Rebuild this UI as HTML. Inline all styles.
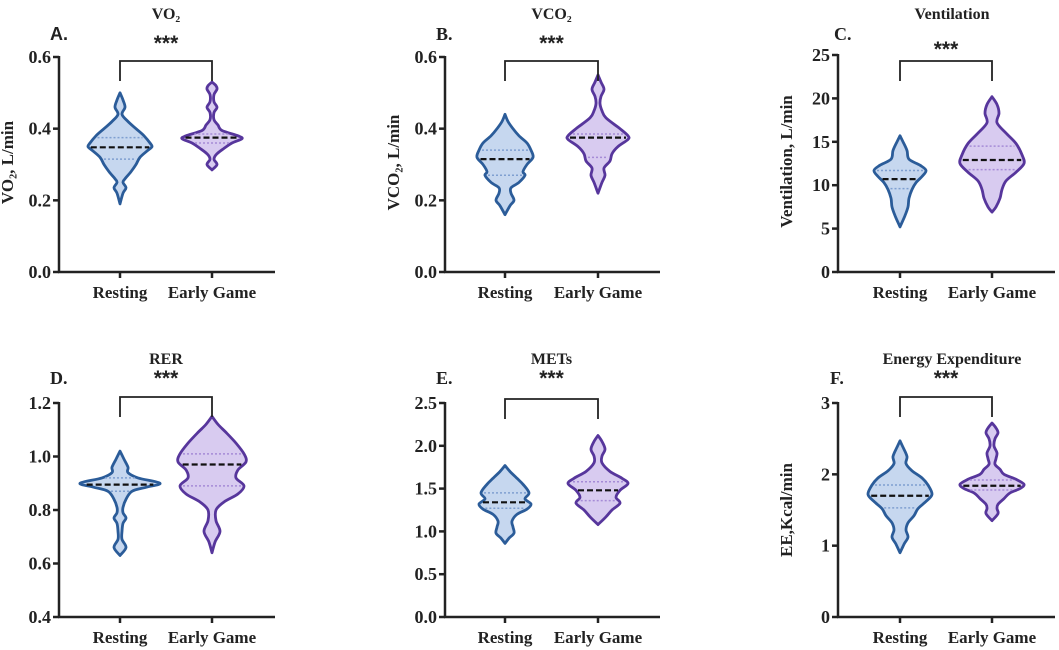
<!DOCTYPE html>
<html><head><meta charset="utf-8"><style>
html,body{margin:0;padding:0;background:#fff;}
svg{display:block;}
text{font-family:"Liberation Serif",serif;font-weight:bold;fill:#222;}
.lbl{font-family:"Liberation Sans",sans-serif;}
</style></head><body>
<svg id="fig" width="1059" height="650" viewBox="0 0 1059 650" xmlns="http://www.w3.org/2000/svg"></svg>
<script>
// ---- data ----
const categories = ["Resting", "Early Game"];
const panelTitles = ["VO\u2082", "VCO\u2082", "Ventilation", "RER", "METs", "Energy Expenditure"];
const panelLetters = ["A.", "B.", "C.", "D.", "E.", "F."];
const yTitles = ["VO\u2082,  L/min", "VCO\u2082,  L/min", "Ventilation,  L/min", "", "", "EE,Kcal/min"];
const yMins = [0, 0, 0, 0.4, 0, 0];
const yMaxs = [0.6, 0.6, 25, 1.2, 2.5, 3];
const yTicksA = [0, 0.2, 0.4, 0.6];
const yTicksB = [0, 0.2, 0.4, 0.6];
const yTicksC = [0, 5, 10, 15, 20, 25];
const yTicksD = [0.4, 0.6, 0.8, 1.0, 1.2];
const yTicksE = [0, 0.5, 1.0, 1.5, 2.0, 2.5];
const yTicksF = [0, 1, 2, 3];
const tickDecimals = [1, 1, 0, 1, 1, 0];
// violin density knots: [value, relative half-width]
const restA = [[0.50,0],[0.48,3],[0.46,5],[0.44,2],[0.42,8],[0.40,16],[0.38,24],[0.36,30],[0.35,32],[0.34,28],[0.32,20],[0.30,16],[0.28,11],[0.26,5],[0.25,3],[0.235,6],[0.22,3],[0.19,0]];
const earlyA = [[0.53,0],[0.52,4],[0.51,5],[0.495,2],[0.475,2],[0.46,5],[0.445,2],[0.425,2],[0.41,6],[0.395,10],[0.38,26],[0.372,30],[0.36,20],[0.345,12],[0.33,5],[0.315,2],[0.30,5],[0.285,0]];
const restB = [[0.44,0],[0.42,3],[0.40,8],[0.38,14],[0.36,22],[0.34,26],[0.32,28],[0.30,22],[0.28,18],[0.27,20],[0.25,14],[0.235,6],[0.22,6],[0.20,9],[0.185,5],[0.16,0]];
const earlyB = [[0.55,0],[0.53,3],[0.51,6],[0.49,3],[0.47,2],[0.45,4],[0.43,8],[0.40,22],[0.38,30],[0.37,30],[0.35,20],[0.33,14],[0.31,12],[0.29,6],[0.27,7],[0.25,4],[0.22,0]];
const restC = [[15.7,0],[15,3],[14,7],[13,9],[12.3,20],[11.7,26],[11,22],[10.3,16],[9.5,12],[8.5,9],[7.5,8],[6.5,5],[5.2,0]];
const earlyC = [[20.2,0],[19.3,5],[18.3,7],[17.2,5],[16,14],[14.8,24],[13.5,30],[12.5,32],[11.5,24],[10.5,14],[9.5,10],[8.5,8],[7.5,4],[6.9,0]];
const restD = [[1.02,0],[0.99,4],[0.96,8],[0.94,8],[0.92,18],[0.90,40],[0.885,26],[0.87,12],[0.84,6],[0.81,3],[0.79,3],[0.77,6],[0.75,3],[0.72,2],[0.69,2],[0.66,6],[0.63,0]];
const earlyD = [[1.15,0],[1.12,6],[1.09,14],[1.05,24],[1.01,32],[0.98,34],[0.95,26],[0.92,24],[0.89,32],[0.86,26],[0.83,12],[0.80,4],[0.76,4],[0.72,8],[0.68,3],[0.64,0]];
const restE = [[1.77,0],[1.70,5],[1.62,12],[1.55,18],[1.45,24],[1.38,20],[1.32,26],[1.26,22],[1.20,12],[1.12,7],[1.05,8],[0.98,9],[0.92,4],[0.86,0]];
const earlyE = [[2.12,0],[2.05,4],[1.96,7],[1.88,4],[1.80,4],[1.70,12],[1.62,24],[1.56,30],[1.48,22],[1.40,18],[1.33,22],[1.25,14],[1.17,8],[1.08,0]];
const restF = [[2.47,0],[2.38,3],[2.25,7],[2.15,6],[2.05,12],[1.95,22],[1.85,28],[1.72,32],[1.62,26],[1.52,18],[1.42,14],[1.32,8],[1.22,6],[1.12,8],[1.02,4],[0.9,0]];
const earlyF = [[2.72,0],[2.65,4],[2.58,6],[2.5,3],[2.4,2],[2.3,5],[2.22,4],[2.14,3],[2.07,8],[2.0,12],[1.93,24],[1.86,32],[1.80,28],[1.74,18],[1.66,12],[1.58,6],[1.52,5],[1.45,6],[1.35,0]];
const medians = [[0.348,0.375],[0.315,0.375],[10.7,12.9],[0.895,0.97],[1.34,1.48],[1.7,1.84]];
const q3s = [[0.375,0.385],[0.34,0.385],[11.7,14.5],[0.92,1.01],[1.45,1.58],[1.85,1.92]];
const q1s = [[0.315,0.36],[0.27,0.32],[9.6,11.8],[0.87,0.89],[1.27,1.36],[1.53,1.78]];
const sigLabels = ["***","***","***","***","***","***"];

const ticksAll = [yTicksA, yTicksB, yTicksC, yTicksD, yTicksE, yTicksF];
const violins = [[restA, earlyA],[restB, earlyB],[restC, earlyC],[restD, earlyD],[restE, earlyE],[restF, earlyF]];

// ---- layout ----
const NS = "http://www.w3.org/2000/svg";
const svg = document.getElementById("fig");
const panels = [
  {ax:59, top:57, bot:272, end:275, c0:120, c1:212, ty:19, ly:40, lx:50, sy:50, by:61},
  {ax:445, top:57, bot:272, end:660, c0:505, c1:598, ty:19, ly:40, lx:436, sy:50, by:61},
  {ax:838, top:55, bot:272, end:1055, c0:900, c1:992, ty:19, ly:40, lx:834, sy:56, by:61},
  {ax:59, top:403, bot:617, end:275, c0:120, c1:212, ty:364, ly:384, lx:50, sy:385, by:397},
  {ax:445, top:403, bot:617, end:660, c0:505, c1:598, ty:364, ly:384, lx:436, sy:385, by:399},
  {ax:838, top:403, bot:617, end:1055, c0:900, c1:992, ty:364, ly:384, lx:830, sy:385, by:397}
];
const strokes = ["#2b5c99", "#57369c"];
const fills = ["#c6d7ef", "#d8cbf0"];
const quartCols = ["#7f9fd0", "#a58bd6"];

function mk(tag, attrs, parent){
  const e = document.createElementNS(NS, tag);
  for (const k in attrs) e.setAttribute(k, attrs[k]);
  (parent||svg).appendChild(e);
  return e;
}
function catmull(pts){
  let d = "M" + pts[0][0] + "," + pts[0][1];
  for (let i=0;i<pts.length-1;i++){
    const p0=pts[Math.max(0,i-1)], p1=pts[i], p2=pts[i+1], p3=pts[Math.min(pts.length-1,i+2)];
    const c1x=p1[0]+(p2[0]-p0[0])/6, c1y=p1[1]+(p2[1]-p0[1])/6;
    const c2x=p2[0]-(p3[0]-p1[0])/6, c2y=p2[1]-(p3[1]-p1[1])/6;
    d += " C"+c1x.toFixed(1)+","+c1y.toFixed(1)+" "+c2x.toFixed(1)+","+c2y.toFixed(1)+" "+p2[0].toFixed(1)+","+p2[1].toFixed(1);
  }
  return d;
}

panels.forEach((p, i) => {
  const g = mk("g", {});
  
  
  const yS = v => p.bot - (v - yMins[i]) / (yMaxs[i] - yMins[i]) * (p.bot - p.top);
  const cx = [p.c0, p.c1];

  const t = mk("text", {x:(p.c0+p.c1)/2 + (i===2||i===5?6:0), y:p.ty, "text-anchor":"middle", "font-size":"16"}, g);
  t.textContent = panelTitles[i];
  
  
  const l = mk("text", {x:p.lx, y:p.ly, "font-size":"18", class:(i===0?"lbl":"")}, g);
  l.textContent = panelLetters[i];
  
  

  violins[i].forEach((knots, k) => {
    const right = knots.map(q => [cx[k] + q[1], yS(q[0])]);
    const left = knots.slice().reverse().map(q => [cx[k] - q[1], yS(q[0])]);
    const d = catmull(right) + " " + catmull(left).replace("M","L") + " Z";
    const v = mk("path", {d:d, fill:fills[k], stroke:strokes[k], "stroke-width":"2.8", "stroke-linejoin":"round"}, g);
    
    
    const wAt = val => {
      for (let j=0;j<knots.length-1;j++){
        const a=knots[j], b=knots[j+1];
        if (val<=a[0] && val>=b[0]) return a[1] + (b[1]-a[1])*(a[0]-val)/(a[0]-b[0]);
      }
      return 0;
    };
    [q3s[i][k], q1s[i][k]].forEach(qv => {
      const w = Math.max(wAt(qv)-3, 3);
      const q = mk("line", {x1:cx[k]-w, x2:cx[k]+w, y1:yS(qv), y2:yS(qv), stroke:quartCols[k], "stroke-width":"1.5", "stroke-dasharray":"2,2"}, g);
      
      
    });
    const mv = medians[i][k];
    const mw = Math.max(wAt(mv)-2, 4);
    const m = mk("line", {x1:cx[k]-mw, x2:cx[k]+mw, y1:yS(mv), y2:yS(mv), stroke:"#111", "stroke-width":"2.2", "stroke-dasharray":"6,3"}, g);
    
    
  });

  const ya = mk("line", {x1:p.ax, x2:p.ax, y1:p.top-1, y2:p.bot+1, stroke:"#222", "stroke-width":"2.5"}, g);
  
  
  const xa = mk("line", {x1:p.ax-1, x2:p.end, y1:p.bot, y2:p.bot, stroke:"#222", "stroke-width":"2.5"}, g);
  
  
  ticksAll[i].forEach(tv => {
    const y = yS(tv);
    mk("line", {x1:p.ax-6, x2:p.ax, y1:y, y2:y, stroke:"#222", "stroke-width":"2.5"}, g);
    const tt = mk("text", {x:p.ax-8, y:y+6, "text-anchor":"end", "font-size":"18"}, g);
    tt.textContent = tv.toFixed(tickDecimals[i]);
    
    
  });
  categories.forEach((c, k) => {
    mk("line", {x1:cx[k], x2:cx[k], y1:p.bot, y2:p.bot+6, stroke:"#222", "stroke-width":"2.5"}, g);
    const ct = mk("text", {x:cx[k], y:p.bot+26, "text-anchor":"middle", "font-size":"17"}, g);
    ct.textContent = c;
    
    
  });
  if (yTitles[i]) {
    const tx = p.ax - 46;
    const ty = (p.top + p.bot)/2 + (i===5 ? 0 : -2);
    const yt = mk("text", {x:tx, y:ty, "text-anchor":"middle", "font-size":"17", transform:"rotate(-90 "+tx+" "+ty+")"}, g);
    yt.textContent = yTitles[i];
    
    
  }
  const br = mk("path", {d:"M"+p.c0+","+(p.by+20)+" V"+p.by+" H"+p.c1+" V"+(p.by+20), fill:"none", stroke:"#222", "stroke-width":"1.8"}, g);
  
  
  const st = mk("text", {x:(p.c0+p.c1)/2, y:p.sy, "text-anchor":"middle", "font-size":"21", class:"lbl"}, g);
  st.textContent = sigLabels[i];
  
  
});
</script>
</body></html>
